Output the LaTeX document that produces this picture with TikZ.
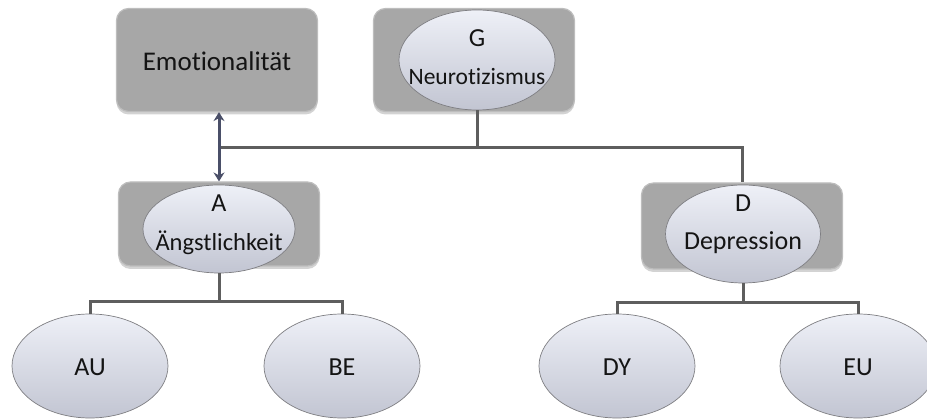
\documentclass[tikz,border=0pt]{standalone}
\usepackage{fontspec}
\setmainfont{Carlito}[Ligatures=NoCommon]
\usetikzlibrary{shapes.geometric,arrows.meta,shadows}
\definecolor{boxgrey}{HTML}{A7A7A7}
\definecolor{boxrim}{HTML}{BDBDBD}
\definecolor{ovaltop}{HTML}{EEF0F7}
\definecolor{ovalbot}{HTML}{C2C5D2}
\definecolor{ovalrim}{HTML}{7E7E82}
\definecolor{linegrey}{HTML}{5E5E5E}
\definecolor{arrowblue}{HTML}{4A4F68}
\definecolor{txt}{HTML}{141414}
\tikzset{
  panel/.style={rectangle, rounded corners=12pt, fill=boxgrey, draw=boxrim,
    line width=1.2pt, minimum width=201pt, inner sep=0pt,
    drop shadow={opacity=0.35, shadow xshift=0pt, shadow yshift=-3pt}},
  oval/.style={ellipse, draw=ovalrim, line width=0.7pt, top color=ovaltop,
    bottom color=ovalbot, inner sep=0pt},
  label/.style={text=txt, font=\fontsize{26}{30}\selectfont, inner sep=0pt},
  conn/.style={draw=linegrey, line width=3pt},
  link/.style={draw=arrowblue, line width=3pt,
    {Stealth[length=9pt,width=11pt,inset=3pt]}-{Stealth[length=9pt,width=11pt,inset=3pt]}}
}
\begin{document}
\begin{tikzpicture}[x=1pt,y=-1pt]
\useasboundingbox (0,0) rectangle (927,419);
\clip (0,0) rectangle (927,419);

% upper row
\node[panel, minimum height=103pt] (emo) at (217,60) {};
\node[label, font=\fontsize{27}{31}\selectfont] (emotxt) at (217,61) {Emotionalität};

\node[panel, minimum height=103pt] (gbox) at (474,60) {};
\node[oval, minimum width=156pt, minimum height=100pt] (gov) at (477,60) {};
\node[label] (gtxt) at (477,38) {G};
\node[label, font=\fontsize{23.5}{28}\selectfont] (gname) at (477,77) {Neurotizismus};

% middle row
\node[panel, minimum height=84pt] (abox) at (219,224) {};
\node[oval, minimum width=152pt, minimum height=88pt] (aov) at (219,229) {};
\node[label] (atxt) at (219,203) {A};
\node[label, font=\fontsize{24.5}{29}\selectfont] (aname) at (219,243) {Ängstlichkeit};

\node[panel, minimum height=86pt] (dbox) at (742,226) {};
\node[oval, minimum width=155pt, minimum height=98pt] (dov) at (743,234) {};
\node[label] (dtxt) at (743,203) {D};
\node[label] (dname) at (743,243) {Depression};

% facets
\node[oval, minimum width=156pt, minimum height=104pt] (au) at (90,366) {};
\node[label] (autxt) at (90,367) {AU};
\node[oval, minimum width=156pt, minimum height=104pt] (be) at (342,366) {};
\node[label] (betxt) at (342,367) {BE};
\node[oval, minimum width=156pt, minimum height=104pt] (dy) at (617,366) {};
\node[label] (dytxt) at (617,367) {DY};
\node[oval, minimum width=156pt, minimum height=104pt] (eu) at (858,366) {};
\node[label] (eutxt) at (858,367) {EU};

% hierarchy lines
\coordinate (top) at (219,148);
\draw[conn] (gov.south) -- (gov.south |- top);
\draw[conn] (top) -- (gov.south |- top) -| (dbox.north);
\coordinate (amid) at (219,302);
\coordinate (dmid) at (743,303);
\draw[conn] (aov.south) -- (amid);
\draw[conn] (au.north) |- (amid) -| (be.north);
\draw[conn] (dov.south) -- (dmid);
\draw[conn] (dy.north) |- (dmid) -| (eu.north);

% two-way link between Emotionalitaet and Aengstlichkeit
\draw[link] (emo.south -| abox.north) -- (abox.north);
\end{tikzpicture}
\end{document}
